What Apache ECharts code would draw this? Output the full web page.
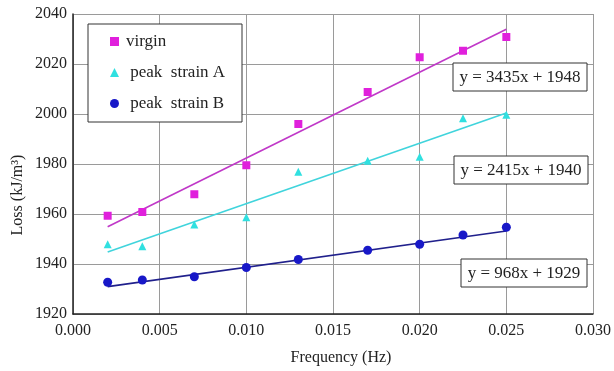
<!DOCTYPE html>
<html><head><meta charset="utf-8">
<script src="https://cdn.jsdelivr.net/npm/echarts@6/dist/echarts.min.js"></script>
<style>html,body{margin:0;padding:0;background:#fff}#c{width:614px;height:371px}</style>
</head><body><div id="c"></div>
<script>
var freq = [0.002, 0.004, 0.007, 0.010, 0.013, 0.017, 0.020, 0.0225, 0.025];
var virgin = [1959.3, 1960.8, 1967.9, 1979.5, 1996.0, 2008.8, 2022.7, 2025.3, 2030.8];
var strainA = [1947.9, 1947.1, 1955.8, 1958.7, 1976.9, 1981.3, 1982.9, 1998.3, 1999.7];
var strainB = [1932.7, 1933.6, 1934.9, 1938.6, 1941.8, 1945.5, 1947.9, 1951.6, 1954.7];
var seriesNames = ['virgin', ' peak  strain A', ' peak  strain B'];
var slopes = [3435, 2415, 968];
var intercepts = [1948, 1940, 1929];
var equations = ['y = 3435x + 1948', 'y = 2415x + 1940', 'y = 968x + 1929'];
var xTicks = [0, 0.005, 0.010, 0.015, 0.020, 0.025, 0.030];
var yTicks = [1920, 1940, 1960, 1980, 2000, 2020, 2040];

var markerColors = ['#e020dc', '#30e0e0', '#1818c8'];
var lineColors = ['#c038c8', '#40d4dc', '#20208c'];
var symbols = ['rect', 'triangle', 'circle'];
var symbolSizes = [8, 8, 9];
var allData = [virgin, strainA, strainB];
var font = 'Liberation Serif, Times New Roman, serif';

var chart = echarts.init(document.getElementById('c'), null, {renderer: 'canvas'});
var series = [];
for (var i = 0; i < 3; i++) {
  var x0 = freq[0], x1 = freq[freq.length - 1];
  series.push({
    type: 'line', name: 'fit' + i, silent: true, showSymbol: false, z: 2,
    data: [[x0, slopes[i] * x0 + intercepts[i]], [x1, slopes[i] * x1 + intercepts[i]]],
    lineStyle: {color: lineColors[i], width: 1.6}
  });
}
for (var i = 0; i < 3; i++) {
  series.push({
    type: 'scatter', name: seriesNames[i], symbol: symbols[i], symbolSize: symbolSizes[i], z: 3,
    itemStyle: {color: markerColors[i], opacity: 1},
    data: freq.map(function (f, k) { return [f, allData[i][k]]; })
  });
}
var eqBoxes = [
  {x: 453, y: 63, w: 134, h: 28},
  {x: 454, y: 156, w: 134, h: 28},
  {x: 461, y: 259, w: 126, h: 28}
];
var graphics = [
  {type: 'rect', shape: {x: 88, y: 24, width: 154, height: 98}, style: {fill: '#fff', stroke: '#333', lineWidth: 1}, z: 10},
  {type: 'text', x: 18, y: 195, rotation: Math.PI / 2, style: {text: 'Loss (kJ/m³)', font: '16px ' + font, fill: '#222', textAlign: 'center', textVerticalAlign: 'middle'}, z: 10}
];
eqBoxes.forEach(function (b, i) {
  graphics.push({type: 'rect', shape: {x: b.x, y: b.y, width: b.w, height: b.h}, style: {fill: '#fff', stroke: '#333', lineWidth: 1}, z: 10});
  graphics.push({type: 'text', x: b.x + b.w / 2, y: b.y + b.h / 2 + 1, style: {text: equations[i], font: '17px ' + font, fill: '#222', textAlign: 'center', textVerticalAlign: 'middle'}, z: 11});
});

chart.setOption({
  animation: false,
  backgroundColor: '#fff',
  grid: {left: 73, top: 14, right: 17, bottom: 54, containLabel: false},
  xAxis: {
    type: 'value', min: xTicks[0], max: xTicks[xTicks.length - 1], interval: 0.005,
    name: 'Frequency (Hz)', nameLocation: 'middle', nameGap: 36,
    nameTextStyle: {fontFamily: font, fontSize: 16, color: '#222', padding: [0, 0, 0, 16]},
    axisLine: {lineStyle: {color: '#222', width: 1.5}},
    axisTick: {show: false},
    axisLabel: {fontFamily: font, fontSize: 16, color: '#222', margin: 9, formatter: function (v) { return v.toFixed(3); }},
    splitLine: {show: true, lineStyle: {color: '#9a9a9a', width: 1}}
  },
  yAxis: {
    type: 'value', min: yTicks[0], max: yTicks[yTicks.length - 1], interval: 20,
    axisLine: {show: true, lineStyle: {color: '#222', width: 1.5}},
    axisTick: {show: false},
    axisLabel: {fontFamily: font, fontSize: 16, color: '#222', margin: 6, formatter: function (v) { return String(v); }},
    splitLine: {show: true, lineStyle: {color: '#9a9a9a', width: 1}}
  },
  legend: {
    data: seriesNames, orient: 'vertical', left: 110, top: 33, itemGap: 14,
    itemWidth: 9, itemHeight: 9, padding: 0, z: 12,
    textStyle: {fontFamily: font, fontSize: 17, color: '#222', lineHeight: 17, padding: [0, 0, 0, 2]}
  },
  graphic: graphics,
  series: series
});
</script></body></html>
